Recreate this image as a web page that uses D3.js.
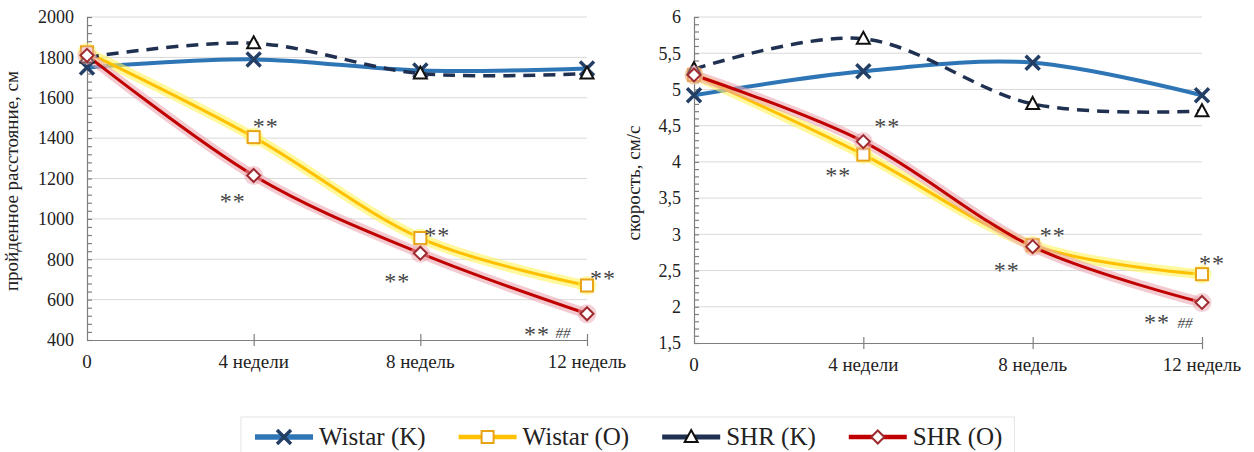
<!DOCTYPE html>
<html><head><meta charset="utf-8">
<script src="https://cdn.jsdelivr.net/npm/d3@7/dist/d3.min.js"></script>
<style>
html,body{margin:0;padding:0;background:#fff;}
svg{display:block;}
svg text{font-family:'Liberation Serif','Times New Roman',Times,serif !important;}
</style></head>
<body>
<svg id="chart" width="1254" height="452" font-family="Liberation Serif, Times New Roman, serif"></svg>
<script>
// ---------- DATA ----------
const categories = ["0", "4 недели", "8 недель", "12 недель"];
const seriesNames = ["Wistar (K)", "Wistar (O)", "SHR (K)", "SHR (O)"];

const distWistarK = [1750, 1790, 1735, 1745];
const distWistarO = [1825, 1405, 905, 670];
const distShrK    = [1800, 1870, 1720, 1720];
const distShrO    = [1810, 1215, 830, 530];

const speedWistarK = [4.92, 5.25, 5.37, 4.92];
const speedWistarO = [5.20, 4.10, 2.85, 2.45];
const speedShrK    = [5.28, 5.70, 4.80, 4.70];
const speedShrO    = [5.20, 4.28, 2.83, 2.06];

const distTicks  = [400, 600, 800, 1000, 1200, 1400, 1600, 1800, 2000];
const speedTicks = [1.5, 2, 2.5, 3, 3.5, 4, 4.5, 5, 5.5, 6];

const distTitle  = "пройденное расстояние, см";
const speedTitle = "скорость, см/с";

// significance marks: [series index, category index, text]
const distMarks  = [[1,1,"**"],[3,1,"**"],[1,2,"**"],[3,2,"**"],[1,3,"**"],[3,3,"**"],[3,3,"##"]];
const speedMarks = [[3,1,"**"],[1,1,"**"],[1,2,"**"],[3,2,"**"],[1,3,"**"],[3,3,"**"],[3,3,"##"]];
// label offsets (px) relative to the marked point
const distMarkOffsets  = [[12,-20],[-21,17],[17,-12],[-23,19],[16,-16],[-50,11],[-24,19]];
const speedMarkOffsets = [[24,-24],[-25,12],[20,-19],[-26,15],[10,-20],[-45,11],[-17,20]];

// ---------- STYLES ----------
const FONT = "'Liberation Serif','Times New Roman',serif";
const styles = [
  {color:"#2E75B6", width:4, dash:null, glow:null, marker:"x"},
  {color:"#FFC000", width:3, dash:null, glow:"#FFF35A", marker:"square"},
  {color:"#1F3050", width:3.5, dash:"12,8", glow:null, marker:"triangle"},
  {color:"#C00000", width:3, dash:null, glow:"#EBA6B0", marker:"diamond"}
];

const svg = d3.select("#chart");

function drawMarker(g, type, x, y) {
  if (type === "x") {
    g.append("path").attr("d", `M${x-7},${y-7}L${x+7},${y+7}M${x-7},${y+7}L${x+7},${y-7}`)
      .attr("stroke", "#243F66").attr("stroke-width", 3.5).attr("fill", "none");
  } else if (type === "square") {
    g.append("rect").attr("x", x-6).attr("y", y-6).attr("width", 12).attr("height", 12)
      .attr("fill", "#fff").attr("stroke", "#E8A317").attr("stroke-width", 2);
  } else if (type === "triangle") {
    g.append("path").attr("d", `M${x},${y-7}L${x+6.5},${y+5}L${x-6.5},${y+5}Z`)
      .attr("fill", "#fff").attr("stroke", "#111").attr("stroke-width", 2);
  } else if (type === "diamond") {
    g.append("path").attr("d", `M${x},${y-6.5}L${x+6.5},${y}L${x},${y+6.5}L${x-6.5},${y}Z`)
      .attr("fill", "#fff").attr("stroke", "#9E2A2F").attr("stroke-width", 2);
  }
}

function txt(g) {
  return g.append("text").style("font-family", FONT).style("fill", "#222");
}

function drawChart(cfg) {
  const g = svg.append("g");
  const x = d3.scalePoint().domain(categories).range([cfg.x0, cfg.x1]);
  const y = d3.scaleLinear().domain(cfg.domain).range([cfg.y0, cfg.y1]);

  g.selectAll(".grid").data(cfg.ticks.slice(1)).enter().append("line")
    .attr("x1", cfg.x0).attr("x2", cfg.x1)
    .attr("y1", d => y(d)).attr("y2", d => y(d))
    .attr("stroke", "#D9D9D9").attr("stroke-width", 1);

  const step = cfg.ticks[1] - cfg.ticks[0];
  const minor = d3.range(cfg.domain[0], cfg.domain[1] + step / 10, step / 5);
  const yAxis = d3.axisRight(y).tickValues(minor).tickSize(5).tickFormat("");
  const ya = g.append("g").attr("transform", `translate(${cfg.x0},0)`).call(yAxis);
  ya.selectAll("path,line").attr("stroke", "#7F7F7F").attr("stroke-width", 1.2);
  cfg.ticks.forEach(d => {
    txt(g).attr("x", cfg.x0 - 13).attr("y", y(d)).attr("dy", "0.35em")
      .attr("text-anchor", "end").attr("font-size", 18).text(cfg.fmt(d));
  });

  const xAxis = d3.axisBottom(x).tickSizeInner(6).tickSizeOuter(0).tickFormat("");
  const xa = g.append("g").attr("transform", `translate(0,${cfg.y0})`).call(xAxis);
  xa.selectAll("path,line").attr("stroke", "#7F7F7F").attr("stroke-width", 1.2);
  xa.selectAll(".tick line").attr("y1", -6);
  xa.select(".tick line").remove();
  categories.forEach(d => {
    txt(g).attr("x", x(d)).attr("y", cfg.y0 + 28)
      .attr("text-anchor", "middle").attr("font-size", 19).text(d);
  });

  txt(g).attr("transform", `translate(${cfg.titleX},${cfg.titleY}) rotate(-90)`)
    .attr("text-anchor", "middle").attr("font-size", 19).text(cfg.title);

  const line = d3.line().x((d, i) => x(categories[i])).y(d => y(d))
    .curve(d3.curveCardinal.tension(0));
  cfg.series.forEach((vals, si) => {
    const st = styles[si];
    if (st.glow) {
      g.append("path").attr("d", line(vals)).attr("fill", "none")
        .attr("stroke", st.glow).attr("stroke-width", st.width + 7)
        .attr("stroke-opacity", 0.6).attr("stroke-linecap", "round");
    }
    g.append("path").attr("d", line(vals)).attr("fill", "none")
      .attr("stroke", st.color).attr("stroke-width", st.width)
      .attr("stroke-dasharray", st.dash).attr("stroke-linecap", st.dash ? "butt" : "round");
  });
  cfg.series.forEach((vals, si) => {
    vals.forEach((v, i) => {
      if (styles[si].glow) {
        g.append("circle").attr("cx", x(categories[i])).attr("cy", y(v)).attr("r", 9.5)
          .attr("fill", styles[si].glow).attr("opacity", 0.5);
      }
      drawMarker(g, styles[si].marker, x(categories[i]), y(v));
    });
  });

  cfg.marks.forEach((m, k) => {
    const [si, ci, label] = m;
    const [dx, dy] = cfg.offsets[k];
    const isHash = label === "##";
    txt(g).attr("x", x(categories[ci]) + dx)
      .attr("y", y(cfg.series[si][ci]) + dy)
      .attr("dy", isHash ? "0.35em" : "0.7em")
      .attr("text-anchor", "middle")
      .attr("font-size", isHash ? 15 : 24)
      .attr("letter-spacing", isHash ? 0 : 1)
      .style("font-style", isHash ? "italic" : "normal")
      .style("fill", "#444")
      .text(label);
  });
}

drawChart({
  x0: 87, x1: 587, y0: 340, y1: 17, domain: [400, 2000], ticks: distTicks,
  fmt: d => String(d), title: distTitle, titleX: 18, titleY: 181,
  series: [distWistarK, distWistarO, distShrK, distShrO],
  marks: distMarks, offsets: distMarkOffsets
});
drawChart({
  x0: 694, x1: 1202, y0: 343, y1: 17, domain: [1.5, 6], ticks: speedTicks,
  fmt: d => String(d).replace(".", ","), title: speedTitle, titleX: 640, titleY: 183,
  series: [speedWistarK, speedWistarO, speedShrK, speedShrO],
  marks: speedMarks, offsets: speedMarkOffsets
});

// ---------- LEGEND ----------
const lg = svg.append("g");
const legendY = 437;
const lineLen = 58;
let cx = 255;
seriesNames.forEach((name, si) => {
  const it = lg.append("g");
  const st = styles[si];
  it.append("line").attr("x1", cx).attr("x2", cx + lineLen).attr("y1", legendY).attr("y2", legendY)
    .attr("stroke", st.color).attr("stroke-width", st.width + 1.5);
  drawMarker(it, st.marker, cx + lineLen / 2, legendY);
  const t = txt(it).attr("x", cx + lineLen + 6).attr("y", legendY + 8)
    .attr("font-size", 25).text(name);
  const w = t.node().getComputedTextLength();
  cx = cx + lineLen + 6 + w + 33;
});
lg.insert("rect", ":first-child").attr("x", 241).attr("y", 417).attr("width", cx - 33 + 12 - 241).attr("height", 40)
  .attr("fill", "#fff").attr("stroke", "#E3E3E3");
</script>
</body></html>
